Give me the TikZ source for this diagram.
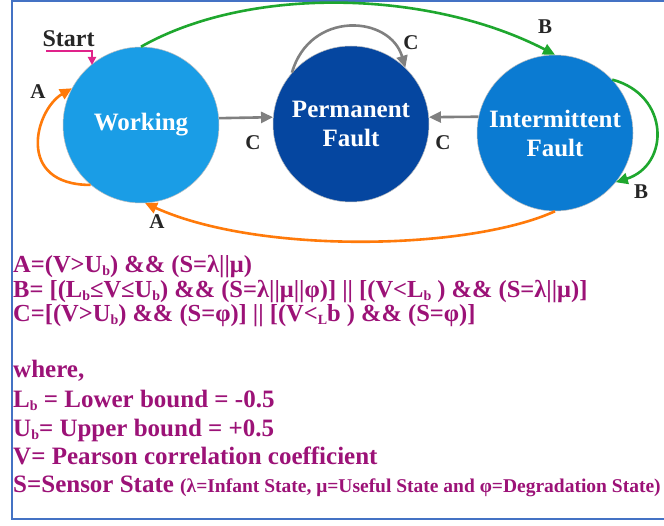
\documentclass[tikz,border=0pt]{standalone}
\usepackage{fontspec}
\setmainfont{Liberation Serif}
\usetikzlibrary{arrows.meta}
\definecolor{frameblue}{HTML}{4472C4}
\definecolor{workblue}{HTML}{1A9DE6}
\definecolor{permblue}{HTML}{0546A0}
\definecolor{interblue}{HTML}{0B7BD2}
\definecolor{eqpurple}{HTML}{9C1277}
\definecolor{startpink}{HTML}{E0228A}
\definecolor{arrgreen}{HTML}{1EA72E}
\definecolor{arrorange}{HTML}{FF7A0A}
\definecolor{arrgray}{HTML}{808080}
\newcommand{\sbx}[1]{\raisebox{-0.12em}{\fontsize{14}{14}\selectfont #1}}
\tikzset{
  state/.style={circle, minimum size=156pt, inner sep=0pt, draw=black!25, line width=0.5pt,
    text=white, font=\fontsize{25}{29}\selectfont\bfseries, align=center},
  trans/.style={line width=2.6pt, -{Triangle[length=12pt,width=11pt]}},
  lbl/.style={font=\fontsize{21}{23}\selectfont\bfseries, text=black!85, inner sep=0pt},
  eq/.style={anchor=base west, inner sep=0pt, text height=17pt, text depth=4pt, text=eqpurple, font=\fontsize{24.5}{26}\selectfont\bfseries},
  def/.style={anchor=base west, inner sep=0pt, text height=18pt, text depth=5pt, text=eqpurple, font=\fontsize{25}{28}\selectfont\bfseries}
}
\begin{document}
\begin{tikzpicture}[x=1pt,y=-1pt]
\useasboundingbox (0,0) rectangle (664,526);
\fill[white] (0,0) rectangle (664,526);
\draw[frameblue, line width=2pt] (680,1) -- (12,1) -- (12,519) -- (680,519);

\node[state, fill=workblue] (W) at (141,125) {Working};
\node[state, fill=permblue] (P) at (351,124) {Permanent\\Fault};
\node[state, fill=interblue] (I) at (555,133) {Intermittent\\Fault};

% start
\node[lbl, anchor=base, font=\fontsize{24}{26}\selectfont\bfseries] (st) at (68.5,47) {Start};
\coordinate (s0) at (46,51);
\coordinate (s1) at (92,51);
\coordinate (s2) at (92,65);
\draw[startpink, line width=2.2pt, -{Triangle[length=8pt,width=8pt]}] (s0) -- (s1) -- (s2);

% working self loop
\draw[trans, arrorange] (W.230) .. controls (15,185) and (35,110) .. (W.152);
\node[lbl] (la1) at (38,92) {A};
% W -> P
\draw[trans, arrgray] (W.5) -- (P.175);
\node[lbl] (lc1) at (253,143) {C};
% P self loop
\draw[trans, arrgray] (P.139) .. controls (310,10) and (390,15) .. (P.46);
\node[lbl] (lc2) at (411,43) {C};
% I -> P
\draw[trans, arrgray] (I.168) -- (P.5);
\node[lbl] (lc3) at (443,143) {C};
% W -> I (green)
\draw[trans, arrgreen] (W.north) .. controls (250,-15) and (430,-10) .. (I.north);
\node[lbl] (lb1) at (545,27) {B};
% I self loop
\draw[trans, arrgreen] (I.43) .. controls (670,95) and (670,165) .. (I.-39);
\node[lbl] (lb2) at (641,192) {B};
% I -> W (orange)
\draw[trans, arrorange] (I.south) .. controls (470,250) and (260,255) .. (W.-87);
\node[lbl] (la2) at (157,222) {A};

% equations
\node[eq] (e1) at (13,273) {A=(V>U\sbx{b}) \&\& (S=λ||μ)};
\node[eq] (e2) at (13,297.5) {B= [(L\sbx{b}≤V≤U\sbx{b}) \&\& (S=λ||μ||φ)] || [(V<L\sbx{b} ) \&\& (S=λ||μ)]};
\node[eq] (e3) at (13,322) {C=[(V>U\sbx{b}) \&\& (S=φ)] || [(V<\sbx{L}b ) \&\& (S=φ)]};

\node[def] (d0) at (13,378) {where,};
\node[def] (d1) at (13,407) {L\sbx{b} = Lower bound = -0.5};
\node[def] (d2) at (13,436) {U\sbx{b}= Upper bound = +0.5};
\node[def] (d3) at (13,464) {V= Pearson correlation coefficient};
\node[def] (d4) at (13,492) {S=Sensor State {\fontsize{19.5}{21}\selectfont (λ=Infant State, μ=Useful State and φ=Degradation State)}};
\end{tikzpicture}
\end{document}
